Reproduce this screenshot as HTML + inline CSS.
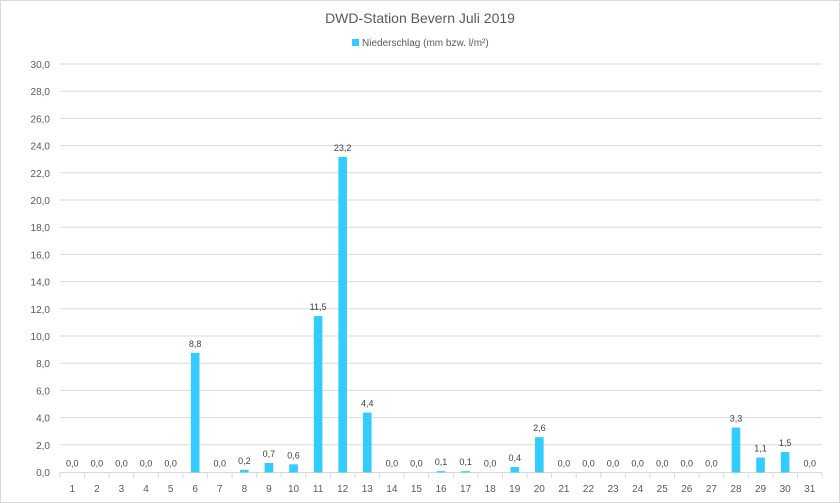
<!DOCTYPE html>
<html><head><meta charset="utf-8"><style>
html,body{margin:0;padding:0;background:#fff}
svg{display:block;font-family:"Liberation Sans",sans-serif}
</style></head><body>
<svg width="840" height="503" viewBox="0 0 840 503" xmlns="http://www.w3.org/2000/svg">
<rect x="0.5" y="0.5" width="839" height="502" fill="#fff" stroke="#d9d9d9"/>
<text x="420" y="23" text-anchor="middle" font-size="14" fill="#595959">DWD-Station Bevern Juli 2019</text>
<rect x="352" y="39" width="7" height="7" fill="#33ccff"/>
<text x="362" y="46" font-size="10" fill="#595959">Niederschlag (mm bzw. l/m²)</text>
<g stroke="#d9d9d9" stroke-width="1">
<line x1="60" x2="822" y1="444.8" y2="444.8"/><line x1="60" x2="822" y1="417.6" y2="417.6"/>
<line x1="60" x2="822" y1="390.4" y2="390.4"/><line x1="60" x2="822" y1="363.2" y2="363.2"/>
<line x1="60" x2="822" y1="336" y2="336"/><line x1="60" x2="822" y1="308.8" y2="308.8"/>
<line x1="60" x2="822" y1="281.6" y2="281.6"/><line x1="60" x2="822" y1="254.4" y2="254.4"/>
<line x1="60" x2="822" y1="227.2" y2="227.2"/><line x1="60" x2="822" y1="200" y2="200"/>
<line x1="60" x2="822" y1="172.8" y2="172.8"/><line x1="60" x2="822" y1="145.6" y2="145.6"/>
<line x1="60" x2="822" y1="118.4" y2="118.4"/><line x1="60" x2="822" y1="91.2" y2="91.2"/>
<line x1="60" x2="822" y1="64" y2="64"/>
<line x1="60" x2="822" y1="472.5" y2="472.5"/>
</g>
<g id="ticks" stroke="#d9d9d9"></g>
<g font-size="10" fill="#595959" text-anchor="end" id="ylab"></g>
<g id="bars"></g>
<script>
(function(){
var vals=[0,0,0,0,0,8.8,0,0.2,0.7,0.6,11.5,23.2,4.4,0,0,0.1,0.1,0,0.4,2.6,0,0,0,0,0,0,0,3.3,1.1,1.5,0];
var NS="http://www.w3.org/2000/svg";
function el(t,a,p,txt){var e=document.createElementNS(NS,t);for(var k in a)e.setAttribute(k,a[k]);if(txt!==undefined)e.textContent=txt;p.appendChild(e);return e;}
var ticks=document.getElementById('ticks'),yl=document.getElementById('ylab'),bars=document.getElementById('bars');
for(var k=0;k<=15;k++){el('text',{x:50,y:472.5-27.2*k+3.5},yl,(2*k).toFixed(1).replace('.',','));}
var w=762/31;
for(var i=0;i<=31;i++){var x=60+w*i;el('line',{x1:x,x2:x,y1:472.5,y2:478},ticks);}
for(var i=0;i<31;i++){
 var xc=60+w*(i+0.5),v=vals[i],h=13.6*v,ty=472.5-h;
 if(v>0)el('rect',{x:xc-4.3,y:ty,width:8.6,height:h,fill:'#33ccff'},bars);
 el('text',{x:xc,y:ty-6,'font-size':9,'text-anchor':'middle',fill:'#404040'},bars,v.toFixed(1).replace('.',','));
 el('text',{x:xc,y:492,'font-size':10,'text-anchor':'middle',fill:'#595959'},bars,String(i+1));
}
})();
</script>
</svg>
</body></html>
